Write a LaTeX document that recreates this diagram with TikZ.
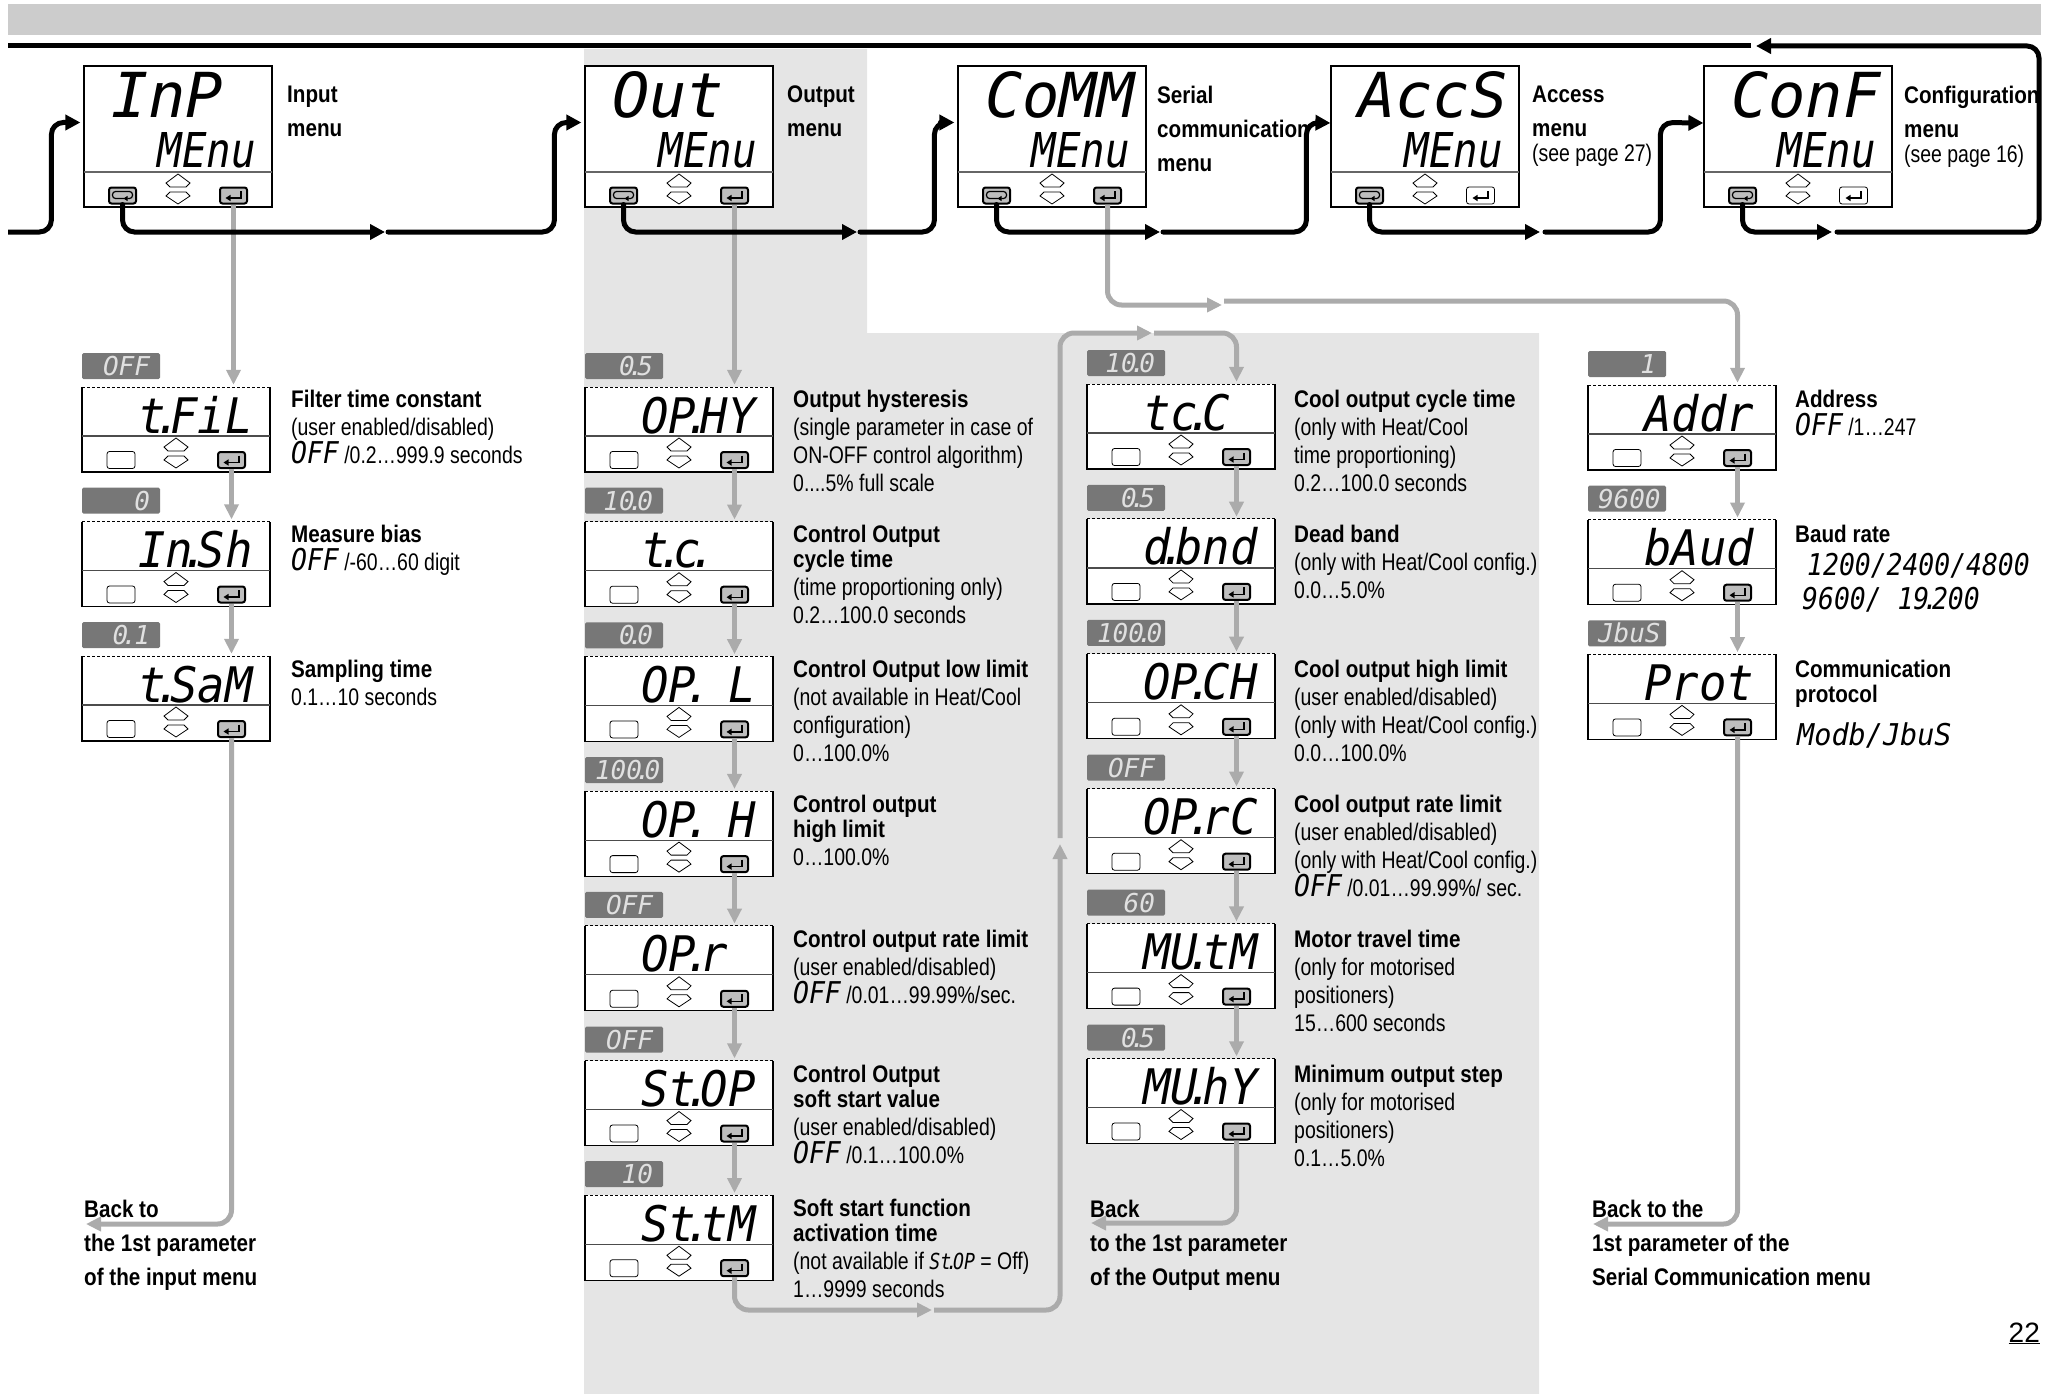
\documentclass[tikz,border=0pt]{standalone}
\usepackage{fontspec}
\usepackage{graphicx}
\usetikzlibrary{arrows.meta}
\setmainfont[FakeStretch=0.81,BoldFeatures={FakeStretch=0.86}]{Liberation Sans}
\newfontfamily\segfam{DejaVu Sans Mono}
\newfontfamily\pagefam{Liberation Sans}
\newcommand{\segtext}[2]{{\fontsize{#1}{#1}\segfam\itshape #2}}
\newcommand{\dd}{\kern-.25em.\kern-.25em}
\newcommand{\inlineseg}[1]{\scalebox{0.88}[1]{\segtext{30}{#1}}}

\definecolor{bandgray}{HTML}{CCCCCC}
\definecolor{pagegray}{HTML}{E5E5E5}
\definecolor{flowgray}{HTML}{ABABAB}
\definecolor{valuegray}{HTML}{777777}
\definecolor{keygray}{HTML}{BEBEBE}

\tikzset{
    menubox/.style={draw, line width=1.2pt, fill=white, minimum width=188pt, minimum height=141pt, inner sep=0pt},
    parambox/.style={fill=white, minimum width=188pt, minimum height=85pt, inner sep=0pt},
    panelline/.style={line width=1.2pt},
    keyon/.style={draw, line width=2pt, fill=keygray, rounded corners=2.5pt, minimum width=27pt, minimum height=16pt, inner sep=0pt},
    keyoff/.style={draw, line width=0.8pt, fill=white, rounded corners=2.5pt, minimum width=28pt, minimum height=17pt, inner sep=0pt},
    valbox/.style={fill=valuegray, text=white!88!black, rounded corners=1.5pt, text width=58pt, align=right, inner xsep=10pt, inner ysep=3.5pt, text height=19pt, text depth=0pt},
    segnode/.style={anchor=base west, inner sep=0pt},
    desc/.style={anchor=north west, align=left, inner sep=0pt, font=\fontsize{24}{28}\selectfont},
    menulabel/.style={anchor=north west, align=left, inner sep=0pt, font=\fontsize{24}{34}\selectfont\bfseries},
    backlabel/.style={anchor=north west, align=left, inner sep=0pt, font=\fontsize{24}{34}\selectfont\bfseries},
    menuarrow/.style={line width=5pt, rounded corners=12pt, line cap=round, -{Triangle[length=15pt,width=15pt]}},
    menuline/.style={line width=5pt, rounded corners=12pt},
    paramarrow/.style={line width=5pt, color=flowgray, rounded corners=14pt, -{Triangle[length=15pt,width=14pt]}, shorten >=2pt},
}

% up and down keys, around (x,y)
\newcommand{\updownkeys}[2]{
    \draw[line width=0.8pt] (#1-8,#2-2) -- (#1+8,#2-2) -- (#1+12,#2-6) -- (#1,#2-15) -- (#1-12,#2-6) -- cycle;
    \draw[line width=0.8pt] (#1-8,#2+3) -- (#1+8,#2+3) -- (#1+12,#2+7) -- (#1,#2+15) -- (#1-12,#2+7) -- cycle;
}
% glyphs on the keys
\newcommand{\enterglyph}[1]{
    \draw[line width=1.3pt, -{Triangle[length=5pt,width=6pt]}] ([shift={(7.5pt,4.5pt)}]#1.center) -- ([shift={(7.5pt,-2.5pt)}]#1.center) -- ([shift={(-8pt,-2.5pt)}]#1.center);
}
\newcommand{\loopglyph}[1]{
    \draw[line width=1.2pt, rounded corners=3pt, -{Triangle[length=4pt,width=5pt]}] ([shift={(2pt,-3pt)}]#1.center) -- ([shift={(-10pt,-3pt)}]#1.center) -- ([shift={(-10pt,4pt)}]#1.center) -- ([shift={(10pt,4pt)}]#1.center) -- ([shift={(10pt,-3pt)}]#1.center) -- ([shift={(1pt,-3pt)}]#1.center);
}

% #1 name, #2 x, #3 y, #4 upper text, #5 lower text, #6 style of the enter key
\newcommand{\menuunit}[6]{
\begin{scope}[shift={(#2,#3)}]
    \node[menubox] (#1) at (94,70.5) {};
    \draw[panelline, black!60] (0,106) -- (188,106);
    \node[segnode] (#1-top) at (27,52) {\segtext{62}{#4}};
    \node[segnode, anchor=base east] (#1-low) at (172,101) {\scalebox{0.85}[1]{\segtext{48}{#5}}};
    \node[keyon] (#1-esc) at (38.5,129.5) {};
    \loopglyph{#1-esc}
    \updownkeys{94}{123}
    \node[#6] (#1-ent) at (149.5,129.5) {};
    \enterglyph{#1-ent}
\end{scope}
}
% #1 name, #2 x, #3 y, #4 display text, #5 value
\newcommand{\paramunit}[5]{
\begin{scope}[shift={(#2,#3)}]
    \node[parambox] (#1) at (94,42.5) {};
    \draw[panelline] (0,0) -- (0,85) -- (188,85) -- (188,0);
    \draw[line width=1pt, dashed, dash pattern=on 3pt off 2pt] (0,0) -- (188,0);
    \draw[panelline, black!70] (0,49) -- (188,49);
    \node[valbox] (#1-val) at (39,-21) {\segtext{26}{#5}};
    \node[segnode] (#1-disp) at (56,46) {\scalebox{0.93}[1]{\segtext{49}{#4}}};
    \node[keyoff] (#1-esc) at (39,73) {};
    \updownkeys{94}{66}
    \node[keyon] (#1-ent) at (149.5,73) {};
    \enterglyph{#1-ent}
\end{scope}
}

\begin{document}
\begin{tikzpicture}[x=1pt,y=-1pt]
\useasboundingbox (0,0) rectangle (2058,1394);

% backgrounds
\fill[bandgray] (8,4) rectangle (2041,35);
\fill[pagegray] (584,49) -- (867,49) -- (867,333) -- (1539,333) -- (1539,1394) -- (584,1394) -- cycle;

% top row
\menuunit{inp}{84}{66}{InP}{MEnu}{keyon}
\menuunit{outm}{585}{66}{Out}{MEnu}{keyon}
\menuunit{comm}{958}{66}{CoMM}{MEnu}{keyon}
\menuunit{accs}{1331}{66}{AccS}{MEnu}{keyoff}
\menuunit{conf}{1704}{66}{ConF}{MEnu}{keyoff}

\node[menulabel] (inplabel) at (287,86) {Input\\menu};
\node[menulabel] (outlabel) at (787,86) {Output\\menu};
\node[menulabel] (commlabel) at (1157,86) {Serial\\communication\\menu};
\node[menulabel] (accslabel) at (1532,86) {Access\\menu\\[-9pt]\normalfont(see page 27)};
\node[menulabel] (conflabel) at (1904,86) {Configuration\\menu\\[-9pt]\normalfont(see page 16)};

% input column
\paramunit{tfil}{82}{387}{t\dd FiL}{OFF}
\paramunit{insh}{82}{521.5}{In\dd Sh}{0}
\paramunit{tsam}{82}{656}{t\dd SaM}{0\dd ~1}

\node[desc] (tfiltext) at (291,390) {\textbf{Filter time constant}\\(user enabled/disabled)\\\inlineseg{OFF} /0.2\ldots 999.9 seconds};
\node[desc] (inshtext) at (291,525) {\textbf{Measure bias}\\\inlineseg{OFF} /-60\ldots 60 digit};
\node[desc] (tsamtext) at (291,660) {\textbf{Sampling time}\\0.1\ldots 10 seconds};

% output column
\paramunit{ophy}{585}{387}{OP\dd HY}{0\dd 5}
\paramunit{tc}{585}{521.7}{t\dd c\dd}{10\dd 0}
\paramunit{opl}{585}{656.4}{OP\dd ~L}{0\dd 0}
\paramunit{oph}{585}{791.1}{OP\dd ~H}{100\dd 0}
\paramunit{opr}{585}{925.8}{OP\dd r}{OFF}
\paramunit{stop}{585}{1060.5}{St\dd OP}{OFF}
\paramunit{sttm}{585}{1195.2}{St\dd tM}{10}

\node[desc] (ophytext) at (793,390) {\textbf{Output hysteresis}\\(single parameter in case of\\ON-OFF control algorithm)\\0....5\% full scale};
\node[desc] (tctext) at (793,525) {\textbf{Control Output}\\[-3pt]\textbf{cycle time}\\(time proportioning only)\\0.2\ldots 100.0 seconds};
\node[desc] (opltext) at (793,660) {\textbf{Control Output low limit}\\(not available in Heat/Cool\\configuration)\\0\ldots 100.0\%};
\node[desc] (ophtext) at (793,795) {\textbf{Control output}\\[-3pt]\textbf{high limit}\\0\ldots 100.0\%};
\node[desc] (oprtext) at (793,930) {\textbf{Control output rate limit}\\(user enabled/disabled)\\\inlineseg{OFF} /0.01\ldots 99.99\%/sec.};
\node[desc] (stoptext) at (793,1065) {\textbf{Control Output}\\[-3pt]\textbf{soft start value}\\(user enabled/disabled)\\\inlineseg{OFF} /0.1\ldots 100.0\%};
\node[desc] (sttmtext) at (793,1199) {\textbf{Soft start function}\\[-3pt]\textbf{activation time}\\(not available if \scalebox{0.7}[0.85]{\segtext{26}{St\dd OP}} = Off)\\1\ldots 9999 seconds};

% second output column
\paramunit{tcc}{1087}{384}{tc\dd C}{10\dd 0}
\paramunit{dbnd}{1087}{518.9}{d\dd bnd}{0\dd 5}
\paramunit{opch}{1087}{653.8}{OP\dd CH}{100\dd 0}
\paramunit{oprc}{1087}{788.7}{OP\dd rC}{OFF}
\paramunit{mutm}{1087}{923.6}{MU\dd tM}{60}
\paramunit{muhy}{1087}{1058.5}{MU\dd hY}{0\dd 5}

\node[desc] (tcctext) at (1294,390) {\textbf{Cool output cycle time}\\(only with Heat/Cool\\time proportioning)\\0.2\ldots 100.0 seconds};
\node[desc] (dbndtext) at (1294,525) {\textbf{Dead band}\\(only with Heat/Cool config.)\\0.0\ldots 5.0\%};
\node[desc] (opchtext) at (1294,660) {\textbf{Cool output high limit}\\(user enabled/disabled)\\(only with Heat/Cool config.)\\0.0\ldots 100.0\%};
\node[desc] (oprctext) at (1294,795) {\textbf{Cool output rate limit}\\(user enabled/disabled)\\(only with Heat/Cool config.)\\\inlineseg{OFF} /0.01\ldots 99.99\%/ sec.};
\node[desc] (mutmtext) at (1294,930) {\textbf{Motor travel time}\\(only for motorised\\positioners)\\15\ldots 600 seconds};
\node[desc] (muhytext) at (1294,1065) {\textbf{Minimum output step}\\(only for motorised\\positioners)\\0.1\ldots 5.0\%};

% serial column
\paramunit{addr}{1588}{385}{Addr}{1}
\paramunit{baud}{1588}{519.7}{bAud}{9600}
\paramunit{prot}{1588}{654.4}{Prot}{JbuS}

\node[desc] (addrtext) at (1795,390) {\textbf{Address}\\\inlineseg{OFF} /1\ldots 247};
\node[desc] (baudtext) at (1795,525) {\textbf{Baud rate}};
\node[segnode] (baudone) at (1807,575) {\scalebox{0.88}[1]{\segtext{30}{1200/2400/4800}}};
\node[segnode] (baudtwo) at (1802,609) {\scalebox{0.88}[1]{\segtext{30}{9600/ 19\dd 200}}};
\node[desc] (prottext) at (1795,660) {\textbf{Communication}\\[-3pt]\textbf{protocol}};
\node[segnode] (protval) at (1797,745) {\scalebox{0.95}[1]{\segtext{30}{Modb/JbuS}}};

\node[backlabel] (backinp) at (84,1200) {Back to\\the 1st parameter\\of the input menu};
\node[backlabel] (backout) at (1090,1200) {Back\\to the 1st parameter\\of the Output menu};
\node[backlabel] (backcomm) at (1592,1200) {Back to the\\1st parameter of the\\Serial Communication menu};

\node[anchor=base east, inner sep=0pt, font=\fontsize{28}{28}\pagefam] (pagenum) at (2040,1342) {\underline{22}};

% free ends of the connectors
\coordinate (inpstart) at (8,232);
\coordinate (inpgap) at (388,232);
\coordinate (outgap) at (860,232);
\coordinate (commgap) at (1163,232);
\coordinate (accsgap) at (1545,232);
\coordinate (confgap) at (1837,232);
\coordinate (topright) at (2039,46);
\coordinate (topgap) at (1751,46);
\coordinate (topleft) at (8,46);
\coordinate (serialstop) at (1224,305);
\coordinate (serialgap) at (1224,301);
\coordinate (inpback) at (84,1224);
\coordinate (outback) at (1089,1223);
\coordinate (commback) at (1591,1224);
\coordinate (softgap) at (934,1310);
\coordinate (upstop) at (1060,842);
\coordinate (upgap) at (1060,838);
\coordinate (overgap) at (1154,333);

% gray connectors
\draw[paramarrow] (inp-ent.south) -- (inp-ent.south |- tfil.north);
\draw[paramarrow] (tfil-ent.south) -- (tfil-ent.south |- insh.north);
\draw[paramarrow] (insh-ent.south) -- (insh-ent.south |- tsam.north);
\draw[paramarrow] (tsam-ent.south) |- (inpback);

\draw[paramarrow] (outm-ent.south) -- (outm-ent.south |- ophy.north);
\draw[paramarrow] (ophy-ent.south) -- (ophy-ent.south |- tc.north);
\draw[paramarrow] (tc-ent.south) -- (tc-ent.south |- opl.north);
\draw[paramarrow] (opl-ent.south) -- (opl-ent.south |- oph.north);
\draw[paramarrow] (oph-ent.south) -- (oph-ent.south |- opr.north);
\draw[paramarrow] (opr-ent.south) -- (opr-ent.south |- stop.north);
\draw[paramarrow] (stop-ent.south) -- (stop-ent.south |- sttm.north);
\draw[paramarrow] (sttm-ent.south) |- (softgap);
\draw[paramarrow] (softgap) -| (upstop);
\draw[paramarrow] (upgap) |- (overgap);
\draw[paramarrow] (overgap) -| (tcc-ent.south |- tcc.north);

\draw[paramarrow] (tcc-ent.south) -- (tcc-ent.south |- dbnd.north);
\draw[paramarrow] (dbnd-ent.south) -- (dbnd-ent.south |- opch.north);
\draw[paramarrow] (opch-ent.south) -- (opch-ent.south |- oprc.north);
\draw[paramarrow] (oprc-ent.south) -- (oprc-ent.south |- mutm.north);
\draw[paramarrow] (mutm-ent.south) -- (mutm-ent.south |- muhy.north);
\draw[paramarrow] (muhy-ent.south) |- (outback);

\draw[paramarrow] (comm-ent.south) |- (serialstop);
\draw[paramarrow] (serialgap) -| (addr-ent.south |- addr.north);
\draw[paramarrow] (addr-ent.south) -- (addr-ent.south |- baud.north);
\draw[paramarrow] (baud-ent.south) -- (baud-ent.south |- prot.north);
\draw[paramarrow] (prot-ent.south) |- (commback);

% black connectors
\draw[menuarrow, line cap=butt] (inpstart) -| ([shift={(-32pt,14pt)}]inp.west) -- ([shift={(-3pt,14pt)}]inp.west);
\draw[menuarrow, shorten >=3pt] (inp-esc.south) |- (inpgap);
\draw[menuarrow] (inpgap) -| ([shift={(-30pt,14pt)}]outm.west) -- ([shift={(-3pt,14pt)}]outm.west);
\draw[menuarrow, shorten >=3pt] (outm-esc.south) |- (outgap);
\draw[menuarrow] (outgap) -| ([shift={(-23pt,14pt)}]comm.west) -- ([shift={(-3pt,14pt)}]comm.west);
\draw[menuarrow, shorten >=3pt] (comm-esc.south) |- (commgap);
\draw[menuarrow] (commgap) -| ([shift={(-24pt,14pt)}]accs.west) -- (accs.west |- 0,123);
\draw[menuarrow, shorten >=5pt] (accs-esc.south) |- (accsgap);
\draw[menuarrow] (accsgap) -| ([shift={(-43pt,14pt)}]conf.west) -- (conf.west |- 0,123);
\draw[menuarrow, shorten >=5pt] (conf-esc.south) |- (confgap);
\draw[menuarrow, shorten >=5pt] (confgap) -| (topright) -- (topgap);
\draw[menuline] (topgap) -- (topleft);

\end{tikzpicture}
\end{document}
